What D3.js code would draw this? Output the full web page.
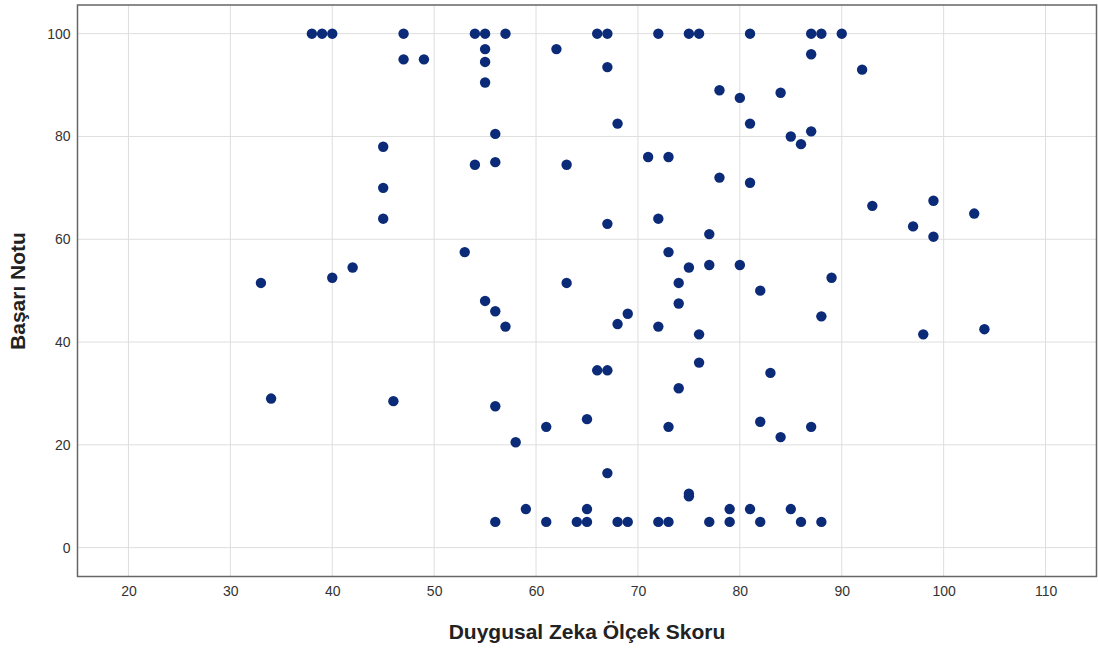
<!DOCTYPE html>
<html>
<head>
<meta charset="utf-8">
<script src="https://cdn.jsdelivr.net/npm/d3@7"></script>
<style>
  html, body { margin: 0; padding: 0; background: #fff; }
  svg { display: block; font-family: Arial, "Liberation Sans", sans-serif; }
</style>
</head>
<body>
<svg id="chart" width="1098" height="653"></svg>
<script>
// Duygusal Zeka Ölçek Skoru (x) values
const eqScores = [
  38, 39, 40, 47, 54, 55, 57, 66, 67, 72, 75, 76, 81, 87, 88, 90,
  55, 62, 87, 47, 49, 55, 55, 67, 92, 78, 84, 80, 81, 68, 56, 85, 87, 86, 45,
  54, 56, 63, 71, 73, 45, 45, 67, 53, 33, 40, 42, 63, 55, 56,
  78, 81, 93, 99, 103, 97, 99, 72, 77, 73, 75, 77, 80, 74, 74, 82, 89,
  57, 69, 68, 66, 67, 34, 46, 56, 65, 61, 58,
  72, 76, 76, 74, 73, 88, 98, 104, 83, 82, 84, 87,
  67, 59, 56, 61, 64, 65, 65, 68, 69,
  72, 73, 75, 75, 77, 79, 79, 81, 82, 85, 86, 88
];
// Başarı Notu (y) values
const grades = [
  100, 100, 100, 100, 100, 100, 100, 100, 100, 100, 100, 100, 100, 100, 100, 100,
  97, 97, 96, 95, 95, 94.5, 90.5, 93.5, 93, 89, 88.5, 87.5, 82.5, 82.5, 80.5, 80, 81, 78.5, 78,
  74.5, 75, 74.5, 76, 76, 70, 64, 63, 57.5, 51.5, 52.5, 54.5, 51.5, 48, 46,
  72, 71, 66.5, 67.5, 65, 62.5, 60.5, 64, 61, 57.5, 54.5, 55, 55, 51.5, 47.5, 50, 52.5,
  43, 45.5, 43.5, 34.5, 34.5, 29, 28.5, 27.5, 25, 23.5, 20.5,
  43, 41.5, 36, 31, 23.5, 45, 41.5, 42.5, 34, 24.5, 21.5, 23.5,
  14.5, 7.5, 5, 5, 5, 5, 7.5, 5, 5,
  5, 5, 10.5, 10, 5, 7.5, 5, 7.5, 5, 7.5, 5, 5
];
const xTicks = [20, 30, 40, 50, 60, 70, 80, 90, 100, 110];
const yTicks = [0, 20, 40, 60, 80, 100];
const xTitle = "Duygusal Zeka Ölçek Skoru";
const yTitle = "Başarı Notu";

const points = eqScores.map((x, i) => ({ x, y: grades[i] }));

const svg = d3.select("#chart");
const pLeft = 77.5, pRight = 1096.5, pTop = 5, pBottom = 576.5;

const x = d3.scaleLinear().domain([15, 115]).range([pLeft, pRight]);
const y = d3.scaleLinear().domain([-5.62, 105.58]).range([pBottom, pTop]);

// gridlines
svg.append("g").selectAll("line").data(xTicks).join("line")
  .attr("x1", d => x(d)).attr("x2", d => x(d))
  .attr("y1", pTop).attr("y2", pBottom)
  .attr("stroke", "#dedede").attr("stroke-width", 1);
svg.append("g").selectAll("line").data(yTicks).join("line")
  .attr("x1", pLeft).attr("x2", pRight)
  .attr("y1", d => y(d)).attr("y2", d => y(d))
  .attr("stroke", "#dedede").attr("stroke-width", 1);

// axes (labels only)
const xAxis = svg.append("g").attr("transform", `translate(0,${pBottom})`)
  .call(d3.axisBottom(x).tickValues(xTicks).tickSize(0).tickPadding(10).tickFormat(d3.format("d")));
const yAxis = svg.append("g").attr("transform", `translate(${pLeft},0)`)
  .call(d3.axisLeft(y).tickValues(yTicks).tickSize(0).tickPadding(7).tickFormat(d3.format("d")));
[xAxis, yAxis].forEach(g => {
  g.select(".domain").remove();
  g.selectAll("text").attr("font-size", 14).attr("fill", "#333")
    .attr("font-family", "Arial, 'Liberation Sans', sans-serif");
});

// frame
svg.append("rect")
  .attr("x", pLeft).attr("y", pTop)
  .attr("width", pRight - pLeft).attr("height", pBottom - pTop)
  .attr("fill", "none").attr("stroke", "#666").attr("stroke-width", 1.5);

// points
svg.append("g").selectAll("circle").data(points).join("circle")
  .attr("cx", d => x(d.x)).attr("cy", d => y(d.y)).attr("r", 5.2)
  .attr("fill", "#0b2a78");

// titles
svg.append("text")
  .attr("x", 587).attr("y", 639)
  .attr("text-anchor", "middle").attr("font-size", 21).attr("font-weight", "bold")
  .attr("fill", "#222").text(xTitle);
svg.append("text")
  .attr("transform", `translate(25,291) rotate(-90)`)
  .attr("text-anchor", "middle").attr("font-size", 21).attr("font-weight", "bold")
  .attr("fill", "#222").text(yTitle);
</script>
</body>
</html>
